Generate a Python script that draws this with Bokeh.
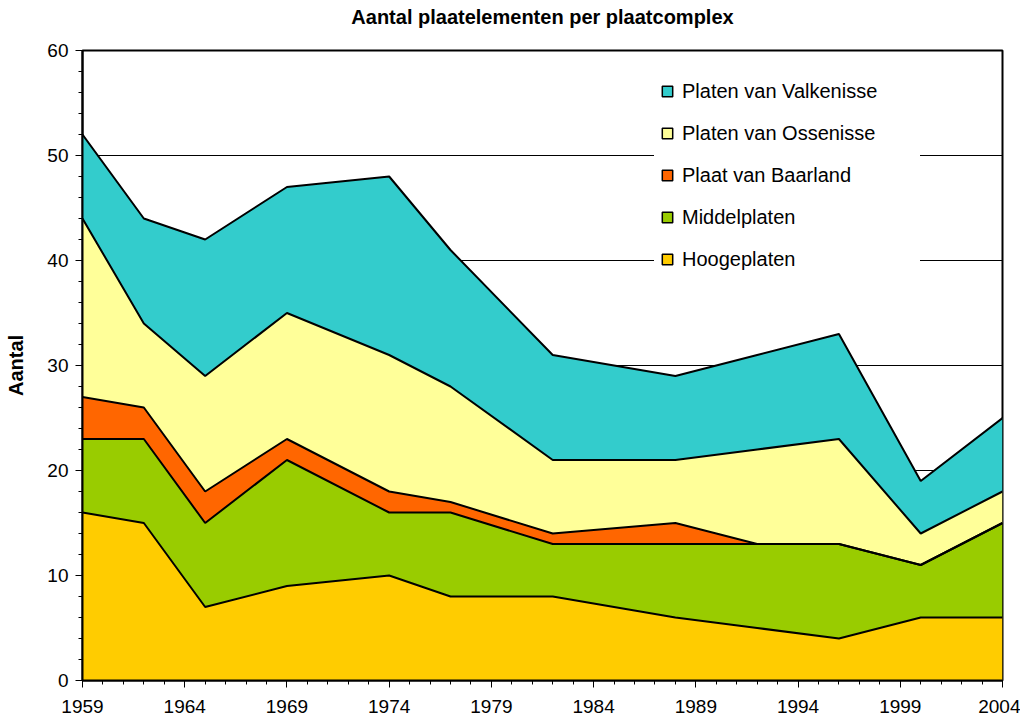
from bokeh.plotting import figure
from bokeh.models import ColumnDataSource, FixedTicker, Legend, LegendItem, Title
from bokeh.embed import file_html
from bokeh.resources import INLINE

years = [1959, 1962, 1965, 1969, 1974, 1977, 1982, 1988, 1992, 1996, 2000, 2004]
hoogeplaten = [16, 15, 7, 9, 10, 8, 8, 6, 5, 4, 6, 6]
middelplaten = [7, 8, 8, 12, 6, 8, 5, 7, 8, 9, 5, 9]
baarland = [4, 3, 3, 2, 2, 1, 1, 2, 0, 0, 0, 0]
ossenisse = [17, 8, 11, 12, 13, 11, 7, 6, 9, 10, 3, 3]
valkenisse = [8, 10, 13, 12, 17, 13, 10, 8, 9, 10, 5, 7]

series = ["Hoogeplaten", "Middelplaten", "Plaat van Baarland",
          "Platen van Ossenisse", "Platen van Valkenisse"]
colors = ["#FFCC00", "#99CC00", "#FF6600", "#FFFF99", "#33CCCC"]

x_ticks = list(range(1959, 2005, 5))
y_ticks = list(range(0, 61, 10))

source = ColumnDataSource(data={
    "year": years,
    "Hoogeplaten": hoogeplaten,
    "Middelplaten": middelplaten,
    "Plaat van Baarland": baarland,
    "Platen van Ossenisse": ossenisse,
    "Platen van Valkenisse": valkenisse,
})

FONT = "Liberation Sans"

p = figure(width=1020, height=722, x_range=(1959, 2004), y_range=(0, 60),
           output_backend="svg", toolbar_location=None, title=None,
           min_border_left=82, min_border_right=18,
           min_border_top=50, min_border_bottom=42)

# spacer panel between the frame and the title (pushes the title upward)
p.add_layout(Title(text=" ", text_font_size="1px", standoff=20), "above")
p.add_layout(Title(text="Aantal plaatelementen per plaatcomplex", align="center",
                   text_font=FONT, text_font_size="20px", text_font_style="bold",
                   text_color="black", standoff=0), "above")

p.varea_stack(stackers=series, x="year", color=colors, source=source)
p.vline_stack(stackers=series, x="year", color="black", line_width=2, source=source)

p.xaxis.ticker = FixedTicker(ticks=x_ticks, minor_ticks=list(range(1959, 2005)))
p.yaxis.ticker = FixedTicker(ticks=y_ticks, minor_ticks=list(range(0, 61, 2)))

for ax in (p.xaxis[0], p.yaxis[0]):
    ax.axis_line_color = "black"
    ax.axis_line_width = 2
    ax.major_tick_line_color = "black"
    ax.minor_tick_line_color = "black"
    ax.major_tick_out = 7
    ax.major_tick_in = 0
    ax.minor_tick_out = 4
    ax.minor_tick_in = 0
    ax.major_label_text_font = FONT
    ax.major_label_text_font_size = "19px"
    ax.major_label_text_color = "black"

p.xaxis.major_label_standoff = 12
p.yaxis.major_label_standoff = 7
p.yaxis.axis_label = "Aantal"
p.yaxis.axis_label_text_font = FONT
p.yaxis.axis_label_text_font_size = "20px"
p.yaxis.axis_label_text_font_style = "bold"
p.yaxis.axis_label_text_color = "black"
p.yaxis.axis_label_standoff = 17

p.xgrid.visible = False
p.ygrid.grid_line_color = "black"
p.ygrid.grid_line_width = 1

p.outline_line_color = "black"
p.outline_line_width = 2
p.outline_line_alpha = 1
p.background_fill_color = "white"
p.border_fill_color = "white"

nan = float("nan")
items = []
for name, c in reversed(list(zip(series, colors))):
    r = p.scatter(x=[nan], y=[nan], marker="square", size=11, fill_color=c,
                  line_color="black", line_width=1.5)
    items.append(LegendItem(label=name, renderers=[r]))

legend = Legend(items=items, location=(572, 408), border_line_color=None,
                background_fill_color="white", background_fill_alpha=1,
                label_text_font=FONT, label_text_font_size="20px", label_text_color="black",
                glyph_width=26, glyph_height=26, label_height=22, spacing=16,
                label_standoff=2, padding=20, margin=0, label_width=238)
p.add_layout(legend)

open("out.html", "w").write(file_html(p, INLINE))
